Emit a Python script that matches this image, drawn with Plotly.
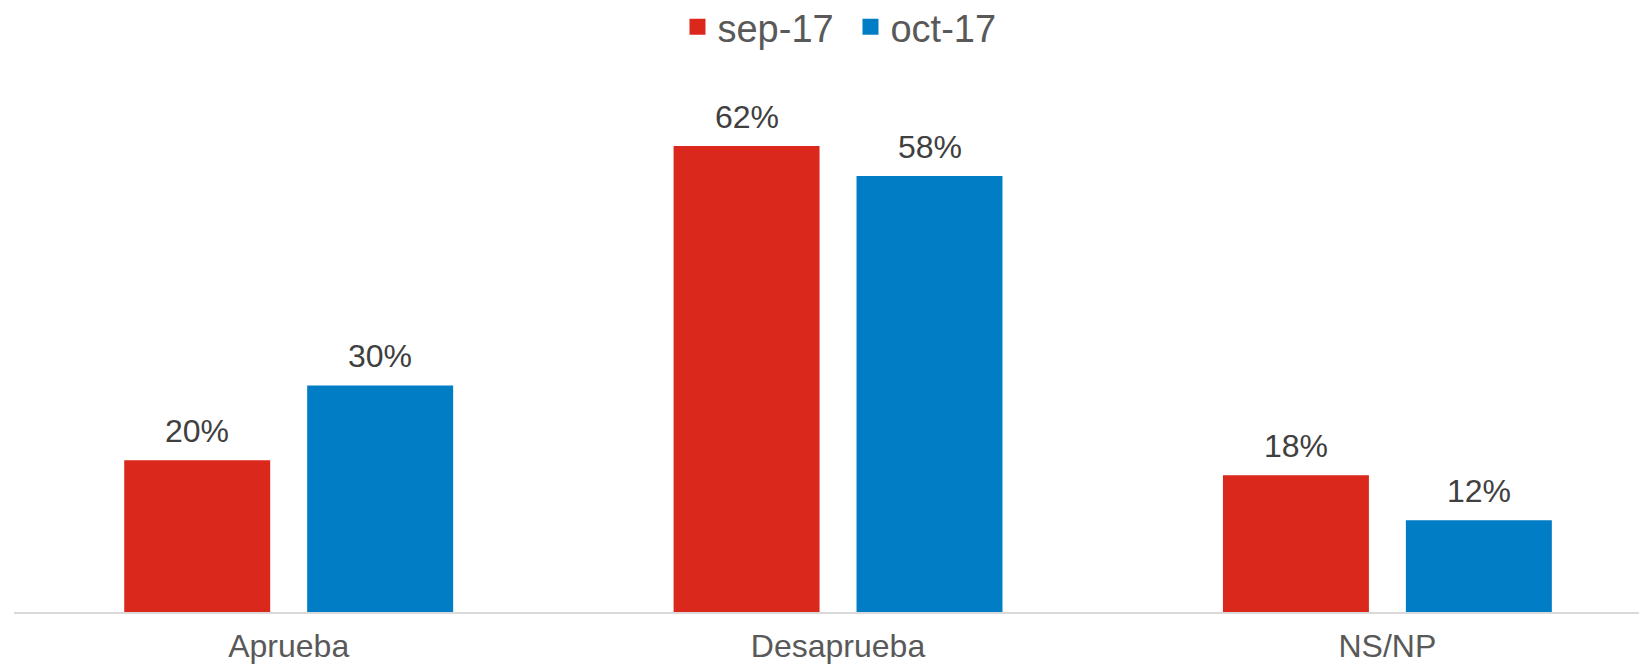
import plotly.graph_objects as go

categories = ["Aprueba", "Desaprueba", "NS/NP"]
series_names = ["sep-17", "oct-17"]
sep_values = [20, 62, 18]
oct_values = [30, 58, 12]
colors = ["#DA291C", "#007DC5"]

FONT = "Liberation Sans, Arial, sans-serif"
BARGAP = 0.334
BARGROUPGAP = 0.224

fig = go.Figure()
all_vals = [sep_values, oct_values]
for name, vals, col in zip(series_names, all_vals, colors):
    fig.add_trace(go.Bar(
        x=categories, y=vals, name=name,
        marker=dict(color=col, line=dict(width=4, color=col)),
        hoverinfo="x+y",
    ))

# data labels placed above each bar (group offset derived from bargap)
slot = (1 - BARGAP) / len(all_vals)
for i, vals in enumerate(all_vals):
    off = (i - (len(all_vals) - 1) / 2) * slot
    for j, v in enumerate(vals):
        fig.add_annotation(
            x=j + off, y=v, xref="x", yref="y", text=f"{v}%", showarrow=False,
            yanchor="bottom", xanchor="center", yshift=11,
            font=dict(family=FONT, size=32, color="#404040"),
        )

fig.update_layout(
    width=1639, height=664,
    margin=dict(l=14, r=0, t=60, b=52, pad=0, autoexpand=False),
    paper_bgcolor="white", plot_bgcolor="white",
    barmode="group", bargap=BARGAP, bargroupgap=BARGROUPGAP,
    font=dict(family=FONT, color="#595959"),
    legend=dict(orientation="h", x=0.4083, xanchor="left", y=0.9593, yanchor="middle",
                yref="container", font=dict(size=38, color="#595959"),
                traceorder="normal", entrywidth=128),
    xaxis=dict(range=[-0.5, 2.458], showgrid=False, showline=True, linecolor="#D9D9D9",
               linewidth=2, ticks="", ticklabelstandoff=5, layer="above traces",
               automargin=False,
               tickfont=dict(size=32, color="#595959"), fixedrange=True),
    yaxis=dict(range=[0, 73.76], visible=False, showgrid=False, zeroline=False,
               automargin=False),
)
fig.write_html(
    "out.html",
    config={"displayModeBar": False},
    post_script="document.body.style.margin='0px';document.body.style.overflow='hidden';",
)
